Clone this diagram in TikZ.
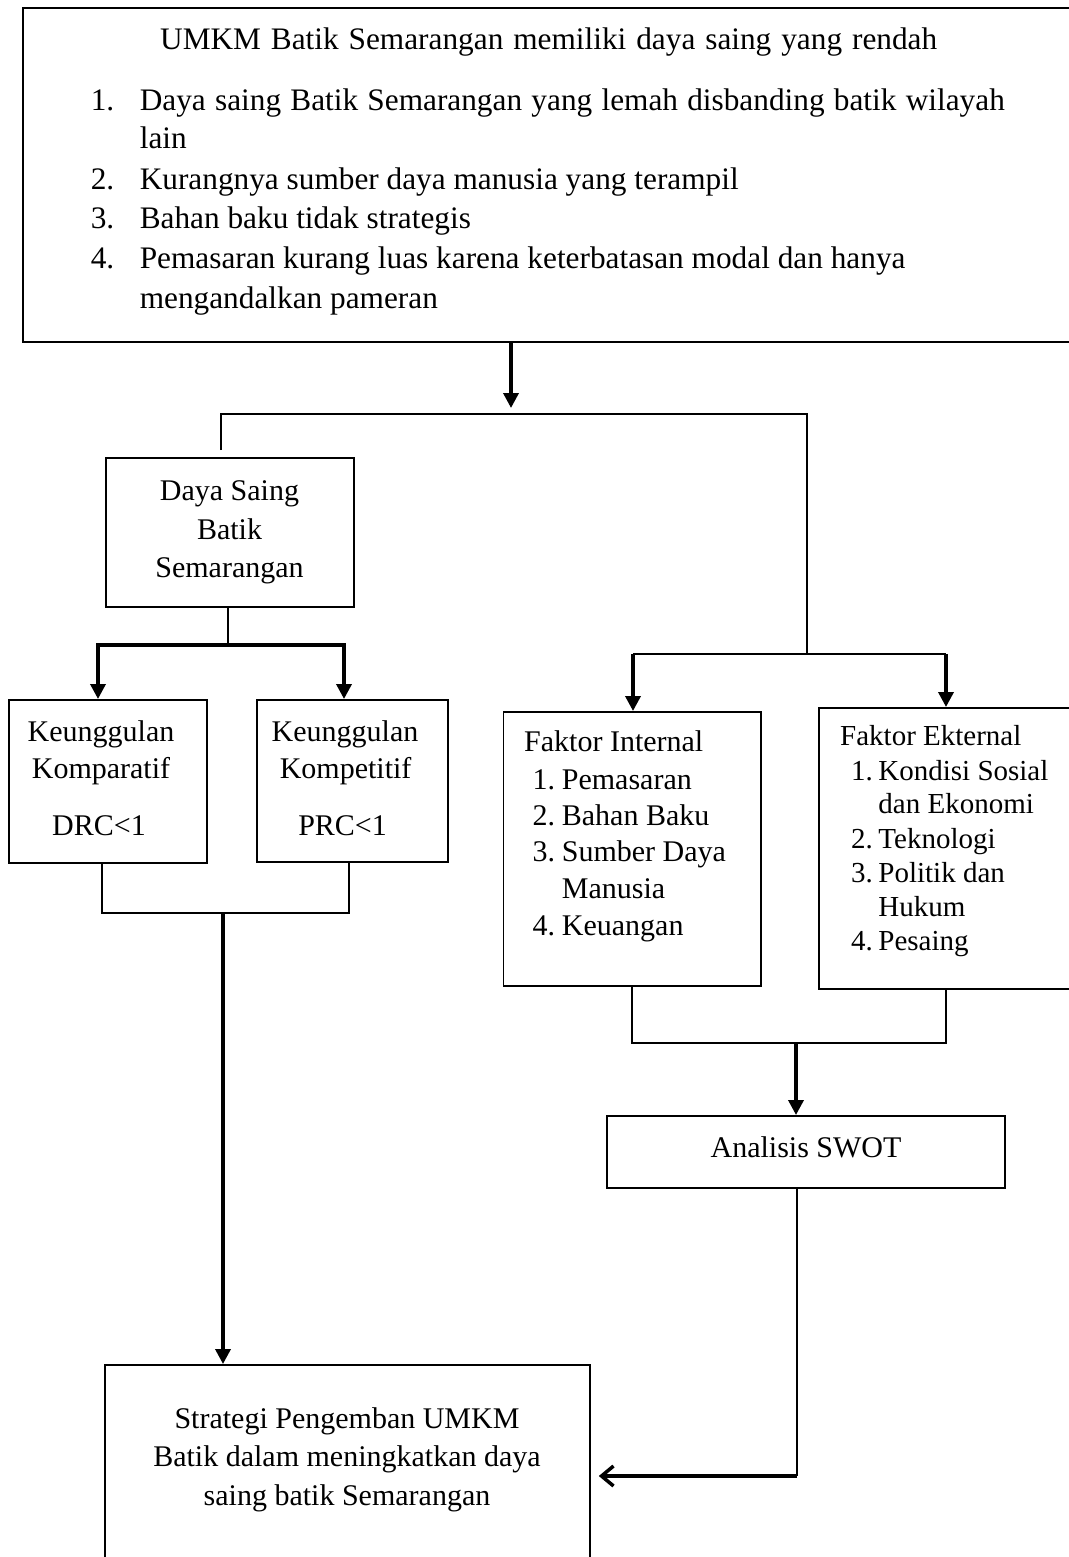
\documentclass[tikz,border=0pt]{standalone}
\usepackage{fontspec}
\setmainfont{Liberation Serif}
\usetikzlibrary{arrows.meta}
\begin{document}
\begin{tikzpicture}[x=1pt,y=-1pt,
  box/.style={draw, line width=1.8pt, rectangle, inner sep=0pt, anchor=north west},
  txt/.style={inner sep=0pt, font=\fontsize{30}{36}\selectfont},
  txtbig/.style={inner sep=0pt, font=\fontsize{31.3}{37}\selectfont},
  txtsm/.style={inner sep=0pt, font=\fontsize{29}{35}\selectfont},
  conn/.style={line width=1.5pt},
  thickline/.style={line width=3.5pt},
  thickarr/.style={line width=3.5pt, -{Triangle[length=15pt,width=15pt]}},
  openarr/.style={line width=3.5pt, -{Straight Barb[length=12pt,width=20pt]}}]
\useasboundingbox (0,0) rectangle (1068,1557);

% ---------- boxes ----------
\node[box, minimum width=1080pt, minimum height=334pt] (top) at (22,7) {};
\node[box, minimum width=248pt, minimum height=149pt] (ds) at (105,457) {};
\node[box, minimum width=198pt, minimum height=163pt] (k1) at (8,699) {};
\node[box, minimum width=191pt, minimum height=162pt] (k2) at (256,699) {};
\node[box, minimum width=257.5pt, minimum height=274pt] (fi) at (502.5,711) {};
\node[box, minimum width=290pt, minimum height=281pt] (fe) at (818,707) {};
\node[box, minimum width=398pt, minimum height=72pt] (sw) at (606,1115) {};
\node[box, minimum width=485pt, minimum height=240pt] (st) at (104,1364) {};

% ---------- top box text ----------
\node[txtbig, anchor=base west] (t0) at (160,50) {\makebox[777pt][s]{UMKM Batik Semarangan memiliki daya saing yang rendah}};
\node[txtbig, anchor=base west] (n1) at (90.6,110.7) {1.};
\node[txtbig, anchor=base west] (t1) at (139.6,110.7) {\makebox[865pt][s]{Daya saing Batik Semarangan yang lemah disbanding batik wilayah}};
\node[txtbig, anchor=base west] (t1b) at (139.6,149) {lain};
\node[txtbig, anchor=base west] (n2) at (90.6,189.3) {2.};
\node[txtbig, anchor=base west] (t2) at (139.6,189.3) {Kurangnya sumber daya manusia yang terampil};
\node[txtbig, anchor=base west] (n3) at (90.6,228.3) {3.};
\node[txtbig, anchor=base west] (t3) at (139.6,228.3) {Bahan baku tidak strategis};
\node[txtbig, anchor=base west] (n4) at (90.6,268.3) {4.};
\node[txtbig, anchor=base west] (t4) at (139.6,268.3) {Pemasaran kurang luas karena keterbatasan modal dan hanya};
\node[txtbig, anchor=base west] (t4b) at (139.6,308.3) {mengandalkan pameran};

% ---------- Daya Saing ----------
\node[txt, anchor=base] (ds1) at (229.5,500) {Daya Saing};
\node[txt, anchor=base] (ds2) at (229.5,539) {Batik};
\node[txt, anchor=base] (ds3) at (229.5,577.5) {Semarangan};

% ---------- Keunggulan ----------
\node[txt, anchor=base] (k1a) at (101,741.7) {Keunggulan};
\node[txt, anchor=base] (k1b) at (101,778.3) {Komparatif};
\node[txt, anchor=base] (k1c) at (99,835) {DRC<1};
\node[txt, anchor=base] (k2a) at (345,741.7) {Keunggulan};
\node[txt, anchor=base] (k2b) at (345.6,778.3) {Kompetitif};
\node[txt, anchor=base] (k2c) at (342.6,835) {PRC<1};

% ---------- Faktor Internal ----------
\node[txt, anchor=base west] (fih) at (524,751.7) {Faktor Internal};
\node[txt, anchor=base west] (fin1) at (532.5,789.3) {1.};
\node[txt, anchor=base west] (fit1) at (561.7,789.3) {Pemasaran};
\node[txt, anchor=base west] (fin2) at (532.5,825.3) {2.};
\node[txt, anchor=base west] (fit2) at (561.7,825.3) {Bahan Baku};
\node[txt, anchor=base west] (fin3) at (532.5,861.7) {3.};
\node[txt, anchor=base west] (fit3) at (561.7,861.7) {Sumber Daya};
\node[txt, anchor=base west] (fit3b) at (561.7,898.3) {Manusia};
\node[txt, anchor=base west] (fin4) at (532.5,935) {4.};
\node[txt, anchor=base west] (fit4) at (561.7,935) {Keuangan};

% ---------- Faktor Ekternal ----------
\node[txtsm, anchor=base west] (feh) at (840,745.7) {Faktor Ekternal};
\node[txtsm, anchor=base west] (fen1) at (851,780) {1.};
\node[txtsm, anchor=base west] (fet1) at (878.2,780) {Kondisi Sosial};
\node[txtsm, anchor=base west] (fet1b) at (878.2,813.3) {dan Ekonomi};
\node[txtsm, anchor=base west] (fen2) at (851,848.3) {2.};
\node[txtsm, anchor=base west] (fet2) at (878.2,848.3) {Teknologi};
\node[txtsm, anchor=base west] (fen3) at (851,882.7) {3.};
\node[txtsm, anchor=base west] (fet3) at (878.2,882.7) {Politik dan};
\node[txtsm, anchor=base west] (fet3b) at (878.2,916) {Hukum};
\node[txtsm, anchor=base west] (fen4) at (851,950) {4.};
\node[txtsm, anchor=base west] (fet4) at (878.2,950) {Pesaing};

% ---------- SWOT & Strategi ----------
\node[txt, anchor=base] (swt) at (806,1157) {Analisis SWOT};
\node[txt, anchor=base] (st1) at (347,1428) {Strategi Pengemban UMKM};
\node[txt, anchor=base] (st2) at (347,1466) {Batik dalam meningkatkan daya};
\node[txt, anchor=base] (st3) at (347,1505) {saing batik Semarangan};

% ---------- connectors ----------
\coordinate (sT) at (511,414);
\coordinate (sL) at (221,414);
\coordinate (sR) at (807,414);
\draw[thickarr, shorten >=6pt] (top.south -| sT) -- (sT);
\coordinate (fL) at (633,654);
\coordinate (fR) at (946,654);
\coordinate (fM) at (807,654);
\draw[conn] ([yshift=7pt]ds.north -| sL) -- (sL) -- (sR) -- (fM);
\draw[conn] (fL) -- (fR);
\draw[thickarr] (fL) -- (fL |- fi.north);
\draw[thickarr] (fR) -- (fR |- fe.north);

\coordinate (dJ) at (228,645);
\coordinate (dL) at (98,645);
\coordinate (dR) at (344,645);
\draw[conn] (ds.south -| dJ) -- (dJ);
\draw[thickline, {Triangle[length=15pt,width=15pt]}-{Triangle[length=15pt,width=15pt]}]
  (dL |- k1.north) -- (dL) -- (dR) -- (dR |- k2.north);

\coordinate (kbL) at (102,913);
\coordinate (kbR) at (349,913);
\coordinate (kb) at (223,913);
\draw[conn] (kbL |- k1.south) -- (kbL) -- (kbR) -- (kbR |- k2.south);
\draw[thickarr] (kb) -- (kb |- st.north);

\coordinate (fbL) at (632,1043);
\coordinate (fbR) at (946,1043);
\coordinate (fb) at (796,1043);
\draw[conn] (fbL |- fi.south) -- (fbL) -- (fbR) -- (fbR |- fe.south);
\draw[thickarr] (fb) -- (fb |- sw.north);

\coordinate (sc) at (797,1476);
\draw[conn] (sw.south -| sc) -- (sc);
\draw[openarr, shorten >=8pt] (sc) -- (sc -| st.east);
\end{tikzpicture}
\end{document}
